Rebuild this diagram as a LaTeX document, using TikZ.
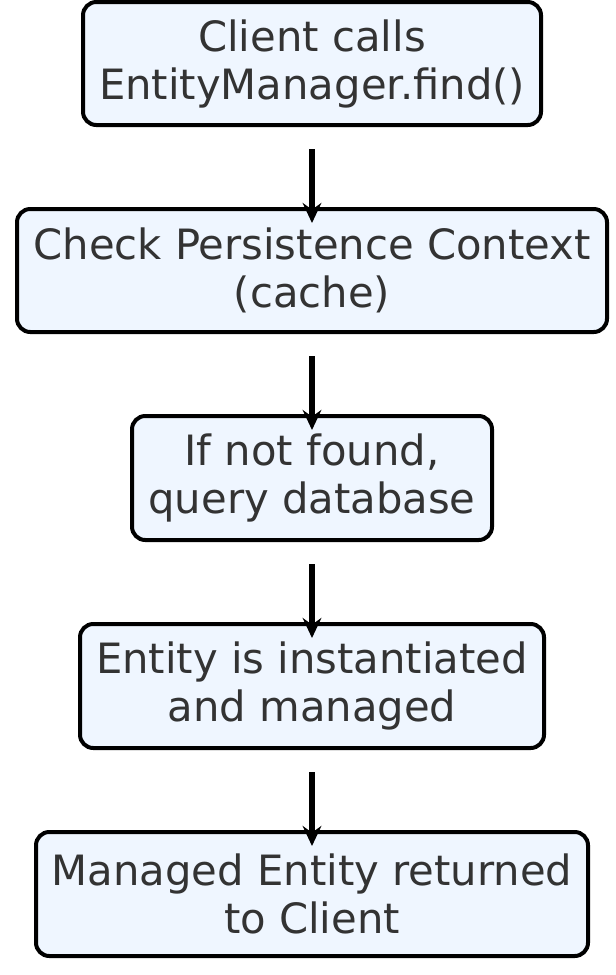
\documentclass[tikz,border=0pt]{standalone}
\usepackage{fontspec}
\setmainfont{DejaVu Sans}
\usetikzlibrary{arrows.meta}
\begin{document}
\begin{tikzpicture}[x=0.75pt,y=-0.75pt,
  box/.style={draw=black,line width=3pt,rounded corners=10pt,fill={rgb,255:red,239;green,246;blue,255},inner sep=0pt,align=center,text={rgb,255:red,51;green,51;blue,51},font=\fontsize{31.3}{36}\selectfont},
  arr/.style={line width=4.2pt,-{Stealth[length=15pt,width=14pt,inset=5pt]}}]
\useasboundingbox (0,0) rectangle (616,975);
\node[box,minimum width=458*0.75pt,minimum height=123*0.75pt] (a) at (312,63.5) {Client calls\\EntityManager.find()};
\node[box,minimum width=590*0.75pt,minimum height=123*0.75pt] (b) at (312,270.5) {Check Persistence Context\\(cache)};
\node[box,minimum width=360*0.75pt,minimum height=124*0.75pt] (c) at (312,478) {If not found,\\query database};
\node[box,minimum width=464*0.75pt,minimum height=124*0.75pt] (d) at (312,686) {Entity is instantiated\\and managed};
\node[box,minimum width=552*0.75pt,minimum height=124*0.75pt] (e) at (312,894) {Managed Entity returned\\to Client};
\foreach \u/\v in {a/b,b/c,c/d,d/e}
  \draw[arr] ([yshift=-22*0.75pt]\u.south) -- ([yshift=-16*0.75pt]\v.north);
\end{tikzpicture}
\end{document}
